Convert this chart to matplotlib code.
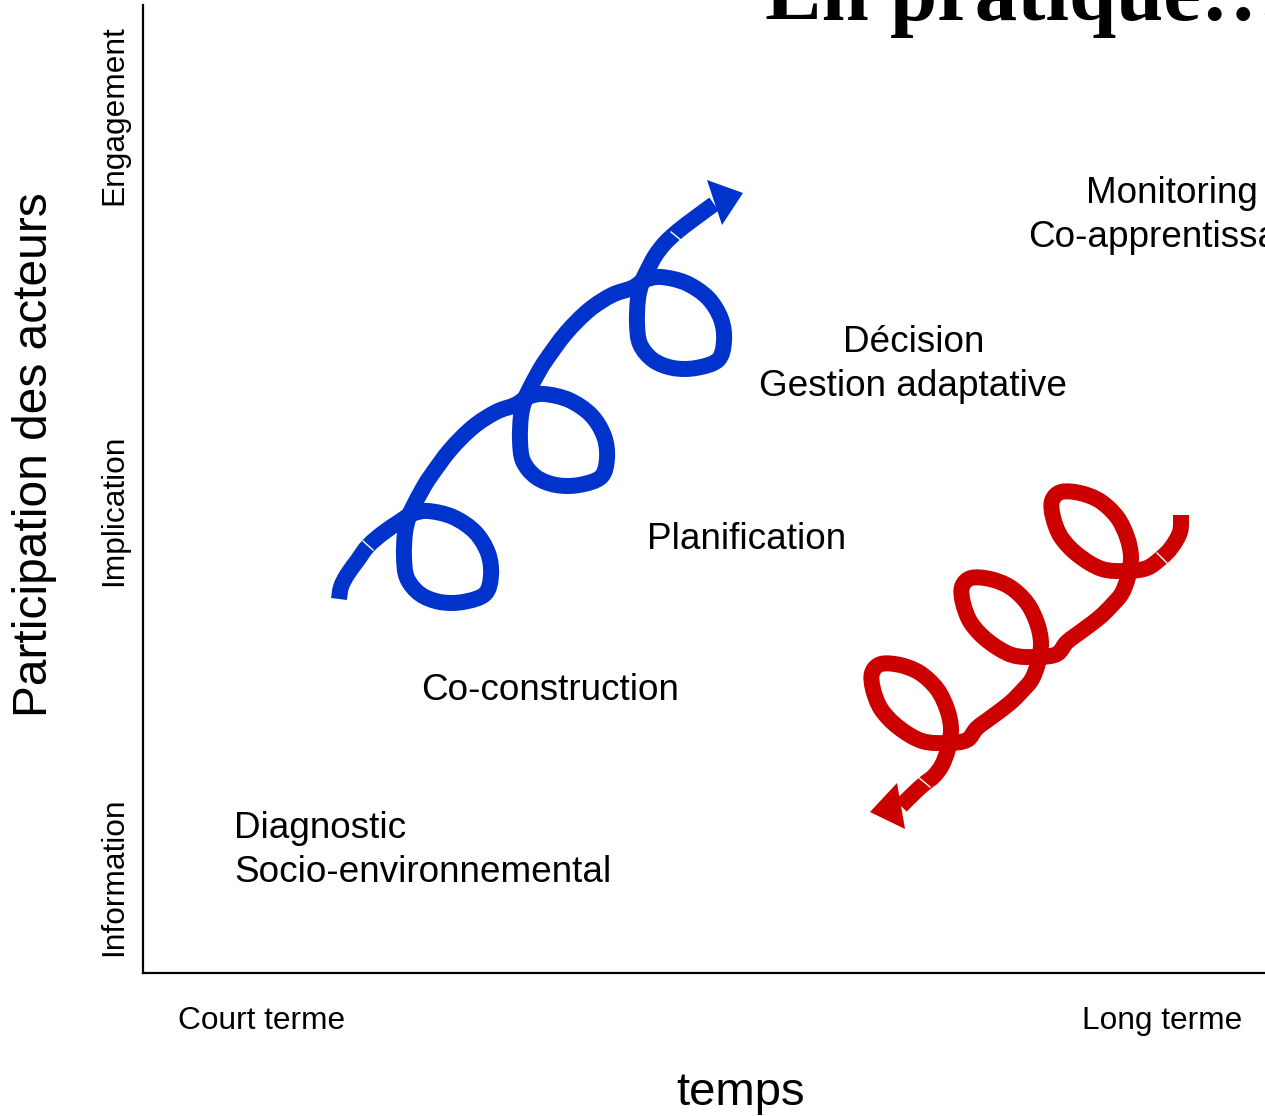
import matplotlib
matplotlib.use("Agg")
import numpy as np
import matplotlib.pyplot as plt
from matplotlib.path import Path
from matplotlib.patches import PathPatch, Polygon

plt.rcParams["font.family"] = ["Liberation Sans", "DejaVu Sans"]

# --- axes: levels of participation / time horizon ---
Y_LEVELS = ["Information", "Implication", "Engagement"]
Y_LEVEL_POS = [877, 510, 115]
X_TERMS = ["Court terme", "Long terme"]
X_TERM_POS = [262, 1162]

# --- stage labels (one entry per text line) ---
STAGE_TEXT = ["Diagnostic", "Socio-environnemental", "Co-construction",
              "Planification", "Décision", "Gestion adaptative",
              "Monitoring", "Co-apprentissage"]
STAGE_X = [234, 234, 421, 647, 913.5, 913.5, 1086, 1028]
STAGE_Y = [838, 882, 700, 549, 352, 396, 203, 247]
STAGE_HA = ["left", "left", "left", "left", "center", "center", "left", "left"]

# --- blue spiral (upward) : points ---
BLUE_START = [(339, 599), (341, 587), (347, 575), (357, 561), (368, 546), (383, 533)]
BLUE_CROSS = [(408, 516), (524, 399), (641, 282)]
BLUE_LOOP = [(-9, 6), (4, -2), (20, -5), (45, 1), (67, 16), (80, 37), (83, 59),
             (77, 78), (55, 86), (32, 86), (12, 78), (-1, 62), (-4, 41),
             (-3, 17), (1, 0), (6, -11), (14, -26)]
BLUE_LINK = [(22, -39), (42, -66), (65, -89), (88, -104)]
BLUE_END = [(665, 243), (678, 231), (695, 218), (714, 204)]
BLUE_HEAD = [(707, 180), (743, 193), (722, 225)]
BLUE_MARKS = [((363, 541), (373, 550)), ((671, 232), (682, 241))]

# --- red spiral (downward) ---
RED_START = [(1181, 515), (1180, 532), (1171, 548), (1160, 559)]
RED_CROSS = [(1128, 577), (1038, 663), (948, 749)]
RED_LOOP = [(19, -9), (0, -6), (-26, -8), (-50, -22), (-67, -40), (-75, -60),
            (-76, -76), (-67, -85), (-48, -84), (-28, -76), (-11, -60),
            (-1, -40), (3, -20), (0, 0), (-6, 16)]
RED_LINK = [(-15, 27), (-28, 40), (-45, 53), (-61, 65)]
RED_END = [(934, 776), (924, 784), (913, 794), (901, 806)]
RED_HEAD = [(870, 812), (897, 783), (905, 829)]
RED_MARKS = [((1157, 553), (1167, 563)), ((918, 777), (930, 787))]

BLUE = "#0033CC"
RED = "#CC0000"


def spiral_points(start, crossings, loop, link, end):
    pts = list(start)
    for k, (cx, cy) in enumerate(crossings):
        pts += [(cx + dx, cy + dy) for dx, dy in loop]
        if k < len(crossings) - 1:
            pts += [(cx + dx, cy + dy) for dx, dy in link]
    return pts + list(end)


def smooth_path(pts):
    # cubic bezier through the read points (catmull-rom tangents)
    pts = np.asarray(pts, float)
    n = len(pts)
    verts, codes = [pts[0]], [Path.MOVETO]
    for i in range(n - 1):
        p0, p1 = pts[max(i - 1, 0)], pts[i]
        p2, p3 = pts[i + 1], pts[min(i + 2, n - 1)]
        verts += [p1 + (p2 - p0) / 6, p2 - (p3 - p1) / 6, p2]
        codes += [Path.CURVE4] * 3
    return Path(verts, codes)


fig = plt.figure(figsize=(12.65, 11.16), dpi=100)
ax = fig.add_axes([143 / 1265, 143 / 1116, 1122 / 1265, 968 / 1116])
ax.set_xlim(143, 1265)
ax.set_ylim(973, 5)
for side in ["top", "right"]:
    ax.spines[side].set_visible(False)
for side in ["left", "bottom"]:
    ax.spines[side].set_linewidth(1.6)

ax.set_yticks(Y_LEVEL_POS)
ax.set_yticklabels(Y_LEVELS, rotation=90, va="center", fontsize=22.8)
ax.set_xticks(X_TERM_POS)
ax.set_xticklabels(X_TERMS, fontsize=22.8)
ax.tick_params(axis="y", length=0, pad=10)
ax.tick_params(axis="x", length=0, pad=24)

ax.text(47, 455, "Participation des acteurs", rotation=90, rotation_mode="anchor",
        ha="center", va="baseline", fontsize=34.5, clip_on=False)
ax.text(741, 1105, "temps", ha="center", va="baseline", fontsize=34, clip_on=False)

ax.text(765, 20, "En pratique\u2026", family="Liberation Serif", fontweight="bold",
        fontsize=61, ha="left", va="baseline")

for txt, x, y, ha in zip(STAGE_TEXT, STAGE_X, STAGE_Y, STAGE_HA):
    ax.text(x, y, txt, ha=ha, va="baseline", fontsize=26.6)

for start, cross, loop, link, end, head, marks, col in [
        (BLUE_START, BLUE_CROSS, BLUE_LOOP, BLUE_LINK, BLUE_END, BLUE_HEAD, BLUE_MARKS, BLUE),
        (RED_START, RED_CROSS, RED_LOOP, RED_LINK, RED_END, RED_HEAD, RED_MARKS, RED)]:
    path = smooth_path(spiral_points(start, cross, loop, link, end))
    ax.add_patch(PathPatch(path, facecolor="none", edgecolor=col, lw=11.5,
                           capstyle="butt", joinstyle="round", zorder=3))
    ax.add_patch(Polygon(head, closed=True, facecolor=col, edgecolor="none", zorder=3))
    for (x0, y0), (x1, y1) in marks:
        ax.plot([x0, x1], [y0, y1], color="white", lw=1.0, zorder=4)

fig.savefig("out.png", dpi=100)
